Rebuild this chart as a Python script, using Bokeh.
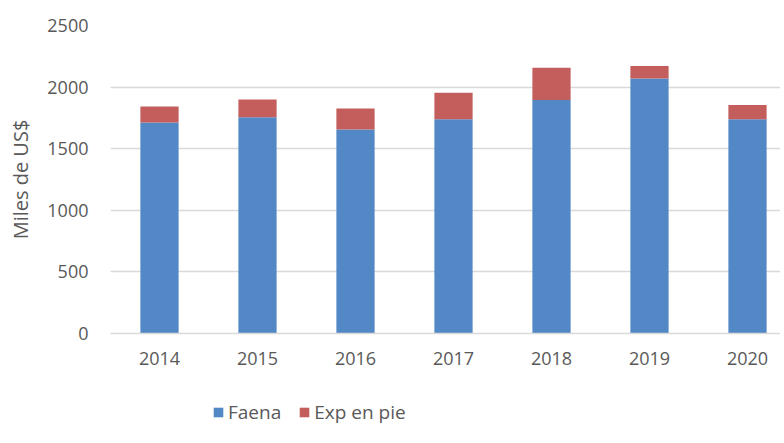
from bokeh.plotting import figure
from bokeh.layouts import column
from bokeh.models import Range1d, FixedTicker, Legend, LegendItem, ColumnDataSource
from bokeh.embed import file_html
from bokeh.resources import INLINE

years = [2014, 2015, 2016, 2017, 2018, 2019, 2020]
faena = [1712, 1755, 1655, 1740, 1895, 2070, 1740]
exp_pie = [130, 145, 172, 215, 263, 102, 115]
y_ticks = [0, 500, 1000, 1500, 2000, 2500]
series = ["faena", "exp_pie"]
labels = ["Faena", "Exp en pie"]
colors = ["#5388C6", "#C35E5C"]

FONT = "Open Sans"
GRAY = "#595959"

src = ColumnDataSource(dict(x=years, faena=faena, exp_pie=exp_pie))

p = figure(width=780, height=383, output_backend="svg", toolbar_location=None,
           x_range=Range1d(2013.5, 2013.5 + 670 / 98), y_range=Range1d(0, 2500),
           min_border_left=110, min_border_right=0, min_border_top=25, min_border_bottom=50)
p.outline_line_color = None

p.vbar_stack(series, x="x", width=0.39, source=src, color=colors, line_color=None)

p.xaxis.ticker = FixedTicker(ticks=years)
p.yaxis.ticker = FixedTicker(ticks=y_ticks)
for ax in (p.xaxis, p.yaxis):
    ax.major_tick_line_color = None
    ax.minor_tick_line_color = None
    ax.major_label_text_font = FONT
    ax.major_label_text_font_size = "18px"
    ax.major_label_text_color = GRAY
    ax.axis_label_text_font = FONT
p.xaxis.axis_line_color = "#D9D9D9"
p.xaxis.axis_line_width = 1.5
p.yaxis.axis_line_color = None
p.yaxis.major_label_standoff = 16
p.xaxis.major_label_standoff = 12
p.yaxis.axis_label = "Miles de US$"
p.yaxis.axis_label_text_font_size = "20px"
p.yaxis.axis_label_text_font_style = "normal"
p.yaxis.axis_label_text_color = GRAY
p.yaxis.axis_label_standoff = 10
p.xgrid.grid_line_color = None
p.ygrid.grid_line_color = "#D9D9D9"
p.ygrid.grid_line_width = 1.5

# legend strip below the chart (its bars fall outside its own view)
p2 = figure(width=780, height=50, output_backend="svg", toolbar_location=None,
            x_range=Range1d(0, 1), y_range=Range1d(0, 1),
            x_axis_location=None, y_axis_location=None,
            min_border_left=0, min_border_right=0, min_border_top=0, min_border_bottom=0)
p2.outline_line_color = None
p2.grid.grid_line_color = None
r2 = p2.vbar_stack(series, x="x", width=0.39, source=src, color=colors, line_color=None)

legend = Legend(items=[LegendItem(label=labels[i], renderers=[r2[i]]) for i in range(2)],
                orientation="horizontal", location=(102, 8),
                padding=0, margin=0, spacing=17, label_standoff=4,
                glyph_width=12, glyph_height=12,
                label_text_font=FONT, label_text_font_size="19px",
                label_text_color=GRAY, border_line_color=None,
                background_fill_alpha=0)
p2.add_layout(legend)

open("out.html", "w").write(file_html(column(p, p2, spacing=0), INLINE))
